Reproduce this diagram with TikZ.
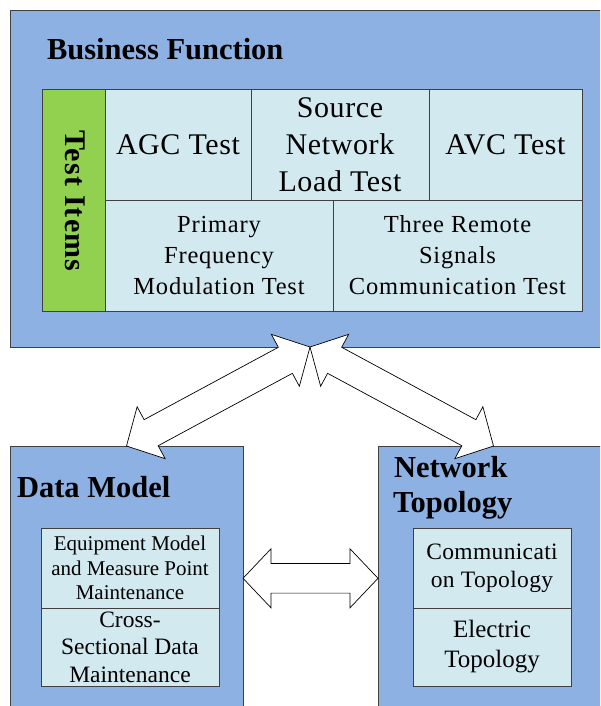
\documentclass[tikz,border=0pt]{standalone}
\usepackage{fontspec}
\setmainfont{Liberation Serif}
\usetikzlibrary{calc}
\definecolor{boxblue}{RGB}{142,177,227}
\definecolor{cellblue}{RGB}{210,233,240}
\definecolor{itemgreen}{RGB}{146,208,80}
\newcommand\mkblockarrow[2]{%
  \draw[blockarr] (#1)
   -- ($(#1)!28pt!(#2)!29.5pt!90:(#2)$)
   -- ($(#1)!28pt!(#2)!14.8pt!90:(#2)$)
   -- ($(#2)!28pt!(#1)!14.8pt!-90:(#1)$)
   -- ($(#2)!28pt!(#1)!29.5pt!-90:(#1)$)
   -- (#2)
   -- ($(#2)!28pt!(#1)!29.5pt!90:(#1)$)
   -- ($(#2)!28pt!(#1)!14.8pt!90:(#1)$)
   -- ($(#1)!28pt!(#2)!14.8pt!-90:(#2)$)
   -- ($(#1)!28pt!(#2)!29.5pt!-90:(#2)$)
   -- cycle;}
\tikzset{
  box/.style={draw=black!75, fill=boxblue, line width=0.8pt, inner sep=0pt, outer sep=0pt, anchor=north west},
  cell/.style={draw=black!75, fill=cellblue, line width=0.8pt, inner sep=0pt, outer sep=0pt, anchor=north west, align=center},
  greencell/.style={cell, fill=itemgreen},
  title/.style={inner sep=0pt, outer sep=0pt, anchor=base west, font=\bfseries\fontsize{30.5}{35}\selectfont},
  bigtxt/.style={font=\fontsize{30}{37}\selectfont\addfontfeature{LetterSpace=2}},
  midtxt/.style={font=\fontsize{24.5}{31}\selectfont\addfontfeature{LetterSpace=3.2}},
  blockarr/.style={draw=black, fill=white, line width=0.7pt, line join=miter}
}
\begin{document}
\begin{tikzpicture}[x=1pt, y=-1pt]
\useasboundingbox (0,0) rectangle (600,706);
\clip (0,0) rectangle (600,706);
% main boxes
\node[box, minimum width=600pt, minimum height=337pt] (bf) at (10,10) {};
\node[box, minimum width=233pt, minimum height=264.6pt] (dm) at (10,446) {};
\node[box, minimum width=231pt, minimum height=264.6pt] (nt) at (378,446) {};
% titles
\node[title] (bft) at (47,60) {Business Function};
\node[title] (dmt) at (17,497) {Data Model};
\node[title] (ntt1) at (394,477) {Network};
\node[title] (ntt2) at (393,512) {Topology};
% test items table
\node[greencell, minimum width=63pt, minimum height=222pt] (ti) at (42,89) {};
\node[rotate=-90, font=\bfseries\fontsize{30}{35}\selectfont\addfontfeature{LetterSpace=4}, inner sep=0pt] (tit) at (75,201) {Test Items};
\node[cell, bigtxt, minimum width=146pt, minimum height=111pt] (agc) at (105,89) {AGC Test};
\node[cell, bigtxt, minimum width=178pt, minimum height=111pt] (snl) at (251,89) {Source\\Network\\Load Test};
\node[cell, bigtxt, minimum width=153pt, minimum height=111pt] (avc) at (429,89) {AVC Test};
\node[cell, midtxt, minimum width=228pt, minimum height=111pt] (pfm) at (105,200) {Primary\\Frequency\\Modulation Test};
\node[cell, midtxt, minimum width=249pt, minimum height=111pt] (trs) at (333,200) {Three Remote\\Signals\\Communication Test};
% data model items
\node[cell, font=\fontsize{21}{24.5}\selectfont, minimum width=178pt, minimum height=80pt] (eq) at (41,528) {Equipment Model\\and Measure Point\\Maintenance};
\node[cell, font=\fontsize{23.5}{27.5}\selectfont, minimum width=178pt, minimum height=78pt] (cs) at (41,608) {Cross-\\Sectional Data\\Maintenance};
% network topology items
\node[cell, font=\fontsize{23.5}{28}\selectfont\addfontfeature{LetterSpace=1.5}, minimum width=158pt, minimum height=80pt] (ct) at (413,528) {Communicati\\on Topology};
\node[cell, font=\fontsize{25}{30}\selectfont, minimum width=158pt, minimum height=78pt] (et) at (413,608) {Electric\\Topology};
% block arrows
\mkblockarrow{bf.south}{dm.north}
\mkblockarrow{bf.south}{nt.north}
\mkblockarrow{dm.east}{nt.west}
\end{tikzpicture}
\end{document}
